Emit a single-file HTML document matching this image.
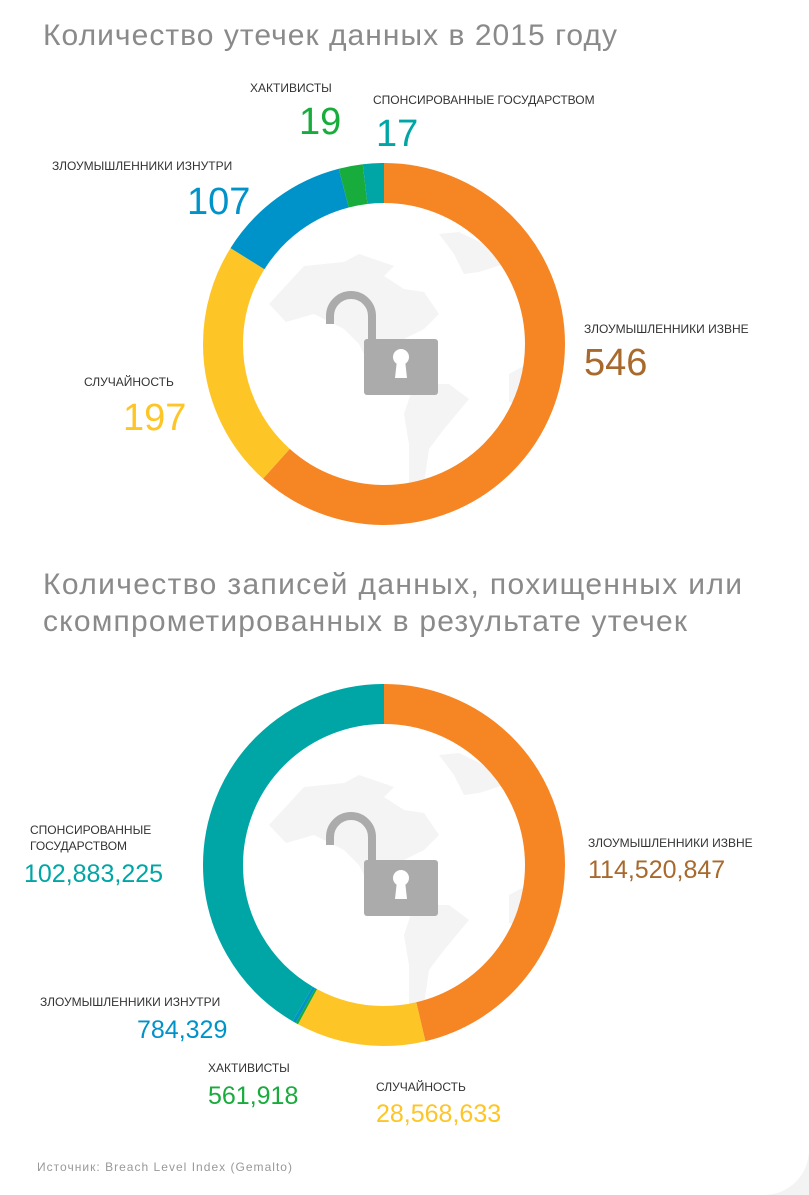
<!DOCTYPE html>
<html><head><meta charset="utf-8"><style>
body{margin:0;background:#f3f3f3;}
svg{display:block}
text{font-family:"Liberation Sans",sans-serif;}
</style></head><body>
<svg width="809" height="1195" xmlns="http://www.w3.org/2000/svg">
<path d="M0 0H809V1150A45 45 0 0 1 764 1195H0Z" fill="#fff"/>
<defs>
<g id="globe">
<polygon points="-115,-40 -80,-78 -40,-82 -25,-90 10,-78 0,-68 20,-55 40,-52 55,-30 40,-15 20,-5 10,25 -5,30 -15,20 -25,0 -40,-15 -70,-30 -98,-22" fill="#f4f4f4"/>
<polygon points="55,-110 75,-112 100,-100 120,-80 95,-72 80,-70 70,-90" fill="#f4f4f4"/>
<polygon points="30,40 65,40 85,55 60,85 45,105 40,140 25,140 25,100 20,70" fill="#f4f4f4"/>
<polygon points="125,30 140,22 138,60 125,58" fill="#f4f4f4"/>
</g>
<g id="lock">
<path d="M-54,-20 V-28 A21 21 0 0 1 -12,-28 V-4" fill="none" stroke="#ababab" stroke-width="8"/>
<rect x="-20" y="-5" width="74" height="56" rx="3" fill="#ababab"/>
<circle cx="17" cy="13" r="8" fill="#fff"/>
<polygon points="13,16 21,16 23,34 11,34" fill="#fff"/>
</g>
</defs>
<text x="43" y="45" font-size="30" fill="#8a8a8a" textLength="574" lengthAdjust="spacing">Количество утечек данных в 2015 году</text>
<g transform="translate(384,344)">
<use href="#globe"/>
<g transform="rotate(-90)" fill="none" stroke-width="40">
<circle r="161" stroke="#F68523" stroke-dasharray="623.4 2000" stroke-dashoffset="0"/>
<circle r="161" stroke="#FDC526" stroke-dasharray="224.9 2000" stroke-dashoffset="-623.4"/>
<circle r="161" stroke="#0093C9" stroke-dasharray="122.2 2000" stroke-dashoffset="-848.3"/>
<circle r="161" stroke="#17AC3C" stroke-dasharray="21.7 2000" stroke-dashoffset="-970.5"/>
<circle r="161" stroke="#00A6A6" stroke-dasharray="19.4 2000" stroke-dashoffset="-992.2"/>
</g>
<use href="#lock"/>
</g>
<g font-size="12" fill="#333">
<text x="250" y="92">ХАКТИВИСТЫ</text>
<text x="373" y="104">СПОНСИРОВАННЫЕ ГОСУДАРСТВОМ</text>
<text x="52" y="170">ЗЛОУМЫШЛЕННИКИ ИЗНУТРИ</text>
<text x="584" y="333">ЗЛОУМЫШЛЕННИКИ ИЗВНЕ</text>
<text x="84" y="386">СЛУЧАЙНОСТЬ</text>
</g>
<g font-size="38">
<text x="299" y="134" fill="#17AC3C">19</text>
<text x="376" y="146" fill="#00A6A6">17</text>
<text x="187" y="214" fill="#0093C9">107</text>
<text x="584" y="375" fill="#A8692C">546</text>
<text x="123" y="430" fill="#FDC526">197</text>
</g>
<text x="43" y="594" font-size="30" fill="#8a8a8a" textLength="699" lengthAdjust="spacing">Количество записей данных, похищенных или</text>
<text x="43" y="631" font-size="30" fill="#8a8a8a" textLength="644" lengthAdjust="spacing">скомпрометированных в результате утечек</text>
<g transform="translate(384,865)">
<use href="#globe"/>
<g transform="rotate(-90)" fill="none" stroke-width="40">
<circle r="161" stroke="#F68523" stroke-dasharray="468.4 2000" stroke-dashoffset="0"/>
<circle r="161" stroke="#FDC526" stroke-dasharray="116.9 2000" stroke-dashoffset="-468.4"/>
<circle r="161" stroke="#17AC3C" stroke-dasharray="2.3 2000" stroke-dashoffset="-585.3"/>
<circle r="161" stroke="#0093C9" stroke-dasharray="3.2 2000" stroke-dashoffset="-587.6"/>
<circle r="161" stroke="#00A6A6" stroke-dasharray="420.8 2000" stroke-dashoffset="-590.8"/>
</g>
<use href="#lock"/>
</g>
<g font-size="12" fill="#333">
<text x="30" y="834">СПОНСИРОВАННЫЕ</text>
<text x="30" y="850">ГОСУДАРСТВОМ</text>
<text x="588" y="847">ЗЛОУМЫШЛЕННИКИ ИЗВНЕ</text>
<text x="40" y="1006">ЗЛОУМЫШЛЕННИКИ ИЗНУТРИ</text>
<text x="208" y="1072">ХАКТИВИСТЫ</text>
<text x="376" y="1091">СЛУЧАЙНОСТЬ</text>
</g>
<g font-size="25">
<text x="24" y="882" fill="#00A6A6">102,883,225</text>
<text x="588" y="878" fill="#A8692C">114,520,847</text>
<text x="137" y="1038" fill="#0093C9">784,329</text>
<text x="208" y="1104" fill="#17AC3C">561,918</text>
<text x="376" y="1122" fill="#FDC526">28,568,633</text>
</g>
<text x="37" y="1171" font-size="12" fill="#999" textLength="255" lengthAdjust="spacing">Источник: Breach Level Index (Gemalto)</text>
</svg>
</body></html>
